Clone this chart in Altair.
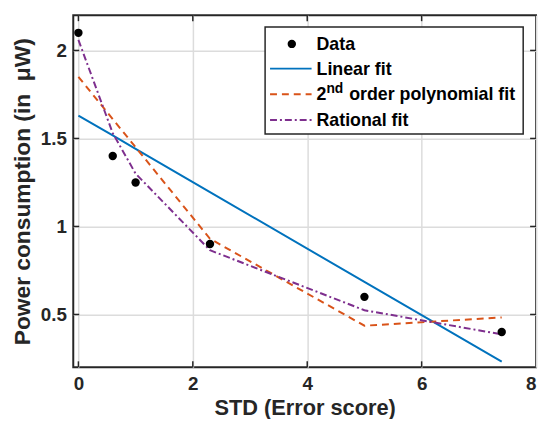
import altair as alt
import pandas as pd

# ---- data ----
std_x = [0.0, 0.6, 1.0, 2.3, 5.0, 7.4]
power_data = [2.1, 1.4, 1.25, 0.9, 0.6, 0.4]
linear_fit = [1.63, 1.517, 1.441, 1.195, 0.685, 0.232]
poly_fit = [1.85, 1.61, 1.45, 0.93, 0.436, 0.483]
rational_fit = [2.06, 1.53, 1.30, 0.865, 0.524, 0.387]
x_ticks = [0, 2, 4, 6, 8]
y_ticks = [0.5, 1, 1.5, 2]
legend_labels = ["Data", "Linear fit", "2", "nd", "order polynomial fit", "Rational fit"]

df = pd.DataFrame({"x": std_x, "data": power_data, "linear": linear_fit,
                   "poly": poly_fit, "rational": rational_fit})

FONT = "Liberation Sans"
DARK = "#262626"
BLUE = "#0072BD"
ORANGE = "#D95319"
PURPLE = "#7E2F8E"
W, H = 468, 356

xscale = alt.Scale(domain=[-0.09, 8], nice=False, zero=False)
yscale = alt.Scale(domain=[0.2, 2.2], nice=False, zero=False)

xaxis = alt.Axis(values=x_ticks, title="STD (Error score)", labelPadding=22,
                 labelBaseline="alphabetic", titleY=48, titleBaseline="alphabetic",
                 titleFontSize=22, format="~g")
yaxis = alt.Axis(values=y_ticks, title="Power consumption (in\u00a0\u00a0μW)", labelPadding=7,
                 titleX=-51, titleBaseline="middle", titleFontSize=23, format="~g")


def X(field="x"):
    return alt.X(f"{field}:Q", scale=xscale, axis=xaxis)


def Y(field):
    return alt.Y(f"{field}:Q", scale=yscale, axis=yaxis)


base = alt.Chart(df)

linear = base.mark_line(color=BLUE, strokeWidth=2).encode(x=X(), y=Y("linear"))
poly = base.mark_line(color=ORANGE, strokeWidth=2, strokeDash=[7, 5]).encode(x=X(), y=Y("poly"))
rational = base.mark_line(color=PURPLE, strokeWidth=2, strokeDash=[7, 3, 2, 3]).encode(x=X(), y=Y("rational"))
points = base.mark_circle(color="black", size=72, opacity=1).encode(x=X(), y=Y("data"))

# inward ticks on all four sides
xt = alt.Chart(pd.DataFrame({"t": x_ticks[:-1]}))
yt = alt.Chart(pd.DataFrame({"t": y_ticks}))
tick_style = dict(color=DARK, strokeWidth=1.5)
xt_bot = xt.mark_rule(**tick_style).encode(x=X("t"), y=alt.value(H), y2=alt.value(H - 6))
xt_top = xt.mark_rule(**tick_style).encode(x=X("t"), y=alt.value(0), y2=alt.value(6))
yt_l = yt.mark_rule(**tick_style).encode(y=Y("t"), x=alt.value(0), x2=alt.value(6))
yt_r = yt.mark_rule(**tick_style).encode(y=Y("t"), x=alt.value(W), x2=alt.value(W - 6))

# ---- legend (manual, to allow the superscript) ----
one = pd.DataFrame({"k": [0]})
leg_box = alt.Chart(one).mark_rect(fill="white", stroke=DARK, strokeWidth=1.5).encode(
    x=alt.value(194), x2=alt.value(455), y=alt.value(12), y2=alt.value(120))
leg_dot = alt.Chart(one).mark_circle(color="black", size=72, opacity=1).encode(
    x=alt.value(221), y=alt.value(29))
leg_lin = alt.Chart(one).mark_rule(color=BLUE, strokeWidth=2).encode(
    x=alt.value(199), x2=alt.value(241), y=alt.value(54))
leg_poly = alt.Chart(one).mark_rule(color=ORANGE, strokeWidth=2, strokeDash=[7, 5]).encode(
    x=alt.value(199), x2=alt.value(241), y=alt.value(80))
leg_rat = alt.Chart(one).mark_rule(color=PURPLE, strokeWidth=2, strokeDash=[7, 3, 2, 3]).encode(
    x=alt.value(199), x2=alt.value(241), y=alt.value(106))

txt = dict(font=FONT, fontWeight="bold", color="black", align="left", baseline="alphabetic")


def label(i, x, y, size=18):
    return alt.Chart(one).mark_text(text=legend_labels[i], fontSize=size, **txt).encode(
        x=alt.value(x), y=alt.value(y))


legend = [leg_box, leg_dot, leg_lin, leg_poly, leg_rat,
          label(0, 246, 35), label(1, 246, 60), label(2, 246, 86),
          label(3, 256, 79, 14), label(4, 279, 86), label(5, 246, 112)]

chart = alt.layer(
    linear, poly, rational, points, xt_bot, xt_top, yt_l, yt_r, *legend
).properties(
    width=W, height=H,
    padding={"left": 66, "top": 5, "right": 4, "bottom": 50},
    autosize="none",
).configure_axis(
    labelFont=FONT, labelFontSize=19, labelFontWeight="bold", labelColor=DARK,
    titleFont=FONT, titleFontWeight="bold", titleColor=DARK,
    grid=True, gridColor="#dcdcdc", gridWidth=1.5, domain=False, ticks=False,
).configure_view(stroke=DARK, strokeWidth=2)

chart.save("out.html", embed_options={"renderer": "svg", "actions": False})
